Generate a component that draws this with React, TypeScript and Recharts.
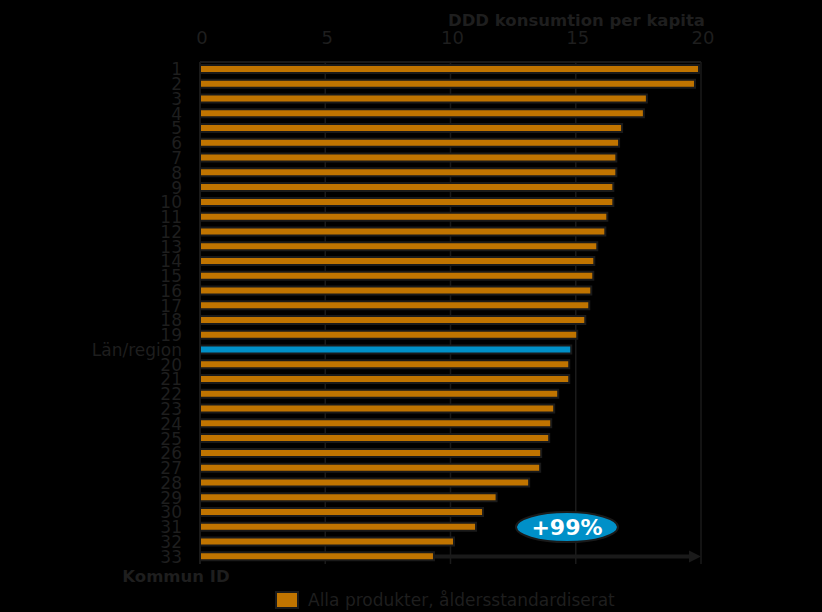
import { Bar, BarChart, CartesianGrid, Cell, ReferenceDot, ReferenceLine, XAxis, YAxis } from "recharts";

const kommuner = [
  "1", "2", "3", "4", "5", "6", "7", "8", "9", "10",
  "11", "12", "13", "14", "15", "16", "17", "18", "19", "Län/region",
  "20", "21", "22", "23", "24", "25", "26", "27", "28", "29",
  "30", "31", "32", "33"
];
const ddd = [
  19.92, 19.76, 17.84, 17.72, 16.85, 16.73, 16.62, 16.62, 16.5, 16.5,
  16.26, 16.18, 15.86, 15.74, 15.7, 15.62, 15.54, 15.38, 15.06, 14.82,
  14.74, 14.74, 14.3, 14.14, 14.02, 13.94, 13.62, 13.58, 13.14, 11.84,
  11.3, 11.02, 10.14, 9.34
];
const xTicks = [0, 5, 10, 15, 20];
const regionLabel = "Län/region";
const seriesName = "Alla produkter, åldersstandardiserat";
const okning = "+99%";

const data = kommuner.map((name, i) => ({ name, value: ddd[i] }));

const orange = "#C07400";
const blue = "#0090C8";
const dark = "#1a1a1a";
const textColor = "#1e1e1e";
const font = "'DejaVu Sans', Verdana, sans-serif";

function Arrow(props: any) {
  const { x1, y1, x2, y2 } = props;
  return (
    <g>
      <line x1={x1} y1={y1} x2={x2 - 11} y2={y2} stroke={dark} strokeWidth={4} />
      <polygon points={`${x2},${y2} ${x2 - 12},${y2 - 6} ${x2 - 12},${y2 + 6}`} fill={dark} />
    </g>
  );
}

function Badge(props: any) {
  const { cx, cy } = props;
  return (
    <g>
      <ellipse cx={cx} cy={cy} rx={51} ry={15} fill={blue} stroke={dark} strokeWidth={2} />
      <text x={cx} y={cy + 8} textAnchor="middle" fill="#ffffff" fontFamily={font} fontWeight="bold" fontSize={22}>
        {okning}
      </text>
    </g>
  );
}

export default function App() {
  return (
    <div style={{ position: "fixed", inset: 0, background: "#000", fontFamily: font }}>
      <BarChart
        width={822}
        height={612}
        data={data}
        layout="vertical"
        margin={{ top: 32, right: 121, bottom: 48, left: 0 }}
        barCategoryGap={0}
      >
        <CartesianGrid stroke={dark} strokeWidth={1.5} horizontal={false} />
        <XAxis
          type="number"
          orientation="top"
          domain={[0, 20]}
          ticks={xTicks}
          height={30}
          axisLine={{ stroke: dark, strokeWidth: 2 }}
          tickLine={false}
          tickMargin={12}
          tick={{ fill: textColor, fontSize: 18, fontFamily: font, dx: 2 }}
        />
        <YAxis
          type="category"
          dataKey="name"
          width={200}
          interval={0}
          axisLine={{ stroke: dark, strokeWidth: 2 }}
          tickLine={false}
          tickMargin={12}
          tick={{ fill: textColor, fontSize: 17, fontFamily: font }}
        />
        <Bar dataKey="value" name={seriesName} barSize={8} fill={orange} stroke={dark} strokeWidth={2} isAnimationActive={false}>
          {data.map((d) => (
            <Cell key={d.name} fill={d.name === regionLabel ? blue : orange} />
          ))}
        </Bar>
        <ReferenceLine
          segment={[
            { x: ddd[ddd.length - 1], y: kommuner[kommuner.length - 1] },
            { x: 20, y: kommuner[kommuner.length - 1] }
          ]}
          shape={Arrow}
        />
        <ReferenceDot x={14.65} y="31" shape={Badge} />
        <text x={705} y={26} textAnchor="end" fill={textColor} fontFamily={font} fontWeight="bold" fontSize={16.5}>
          DDD konsumtion per kapita
        </text>
        <text x={176} y={582} textAnchor="middle" fill={textColor} fontFamily={font} fontWeight="bold" fontSize={16.5}>
          Kommun ID
        </text>
      </BarChart>
      <div style={{ position: "absolute", left: 275, top: 590, display: "flex", alignItems: "center", gap: 9 }}>
        <span style={{ width: 24, height: 18, background: orange, border: `2px solid ${dark}`, boxSizing: "border-box" }} />
        <span style={{ color: textColor, fontSize: 17, lineHeight: "20px" }}>{seriesName}</span>
      </div>
    </div>
  );
}
